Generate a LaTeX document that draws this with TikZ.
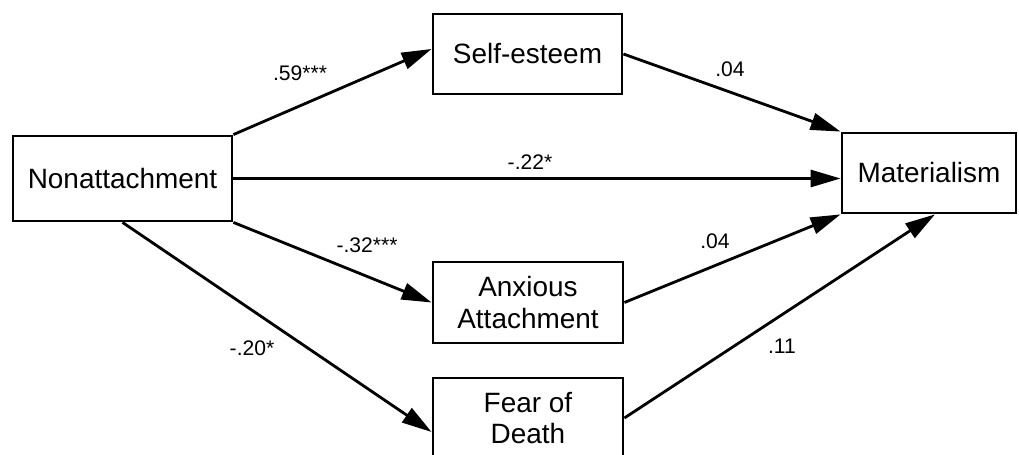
\documentclass[tikz,border=0pt]{standalone}
\usepackage{fontspec}
\setmainfont{Liberation Sans}
\usepackage{tikz}
\usetikzlibrary{positioning,calc}
\usetikzlibrary{arrows.meta}
\tikzset{>={Triangle[length=6mm,width=3.4mm]}}

\begin{document}
\begin{tikzpicture}[line width=1.6pt,
    var/.style = {draw, rectangle, align=center, inner sep=0pt, font=\fontsize{15.9}{18}\selectfont},
    coef/.style = {font=\fontsize{12}{14}\selectfont}]
    \useasboundingbox (0,0) rectangle (20.38,9.1);
    % boxes
    \node[var, minimum width=4.38cm, minimum height=1.70cm] (nonatt) at (2.45,5.53) {Nonattachment};
    \node[var, minimum width=3.78cm, minimum height=1.60cm] (self) at (10.55,8.02) {Self-esteem};
    \node[var, minimum width=3.48cm, minimum height=1.60cm] (mat) at (18.58,5.64) {Materialism};
    \node[var, minimum width=3.80cm, minimum height=1.62cm] (anx) at (10.56,3.05) {Anxious\\Attachment};
    \node[var, minimum width=3.80cm, minimum height=1.60cm] (fear) at (10.56,0.74) {Fear of\\Death};
    % paths
    \draw[->] (nonatt.north east) to ([yshift=0.1cm]self.west);
    \draw[->] (self.east) to (mat.north west);
    \draw[->] (nonatt.east) to (nonatt.east -| mat.west);
    \draw[->] (nonatt.south east) to (anx.west);
    \draw[->] (nonatt.south) to ([yshift=-0.28cm]fear.west);
    \draw[->] (anx.east) to (mat.south west);
    \draw[->] (fear.east) to ([xshift=0.12cm]mat.south);
    % coefficients
    \node[coef] (c59) at (6.0,7.64) {.59***};
    \node[coef] (c04a) at (14.6,7.72) {.04};
    \node[coef] (c22) at (10.6,5.86) {-.22*};
    \node[coef] (c32) at (7.34,4.2) {-.32***};
    \node[coef] (c20) at (5.04,2.14) {-.20*};
    \node[coef] (c04b) at (14.3,4.28) {.04};
    \node[coef] (c11) at (15.64,2.18) {.11};
\end{tikzpicture}
\end{document}
